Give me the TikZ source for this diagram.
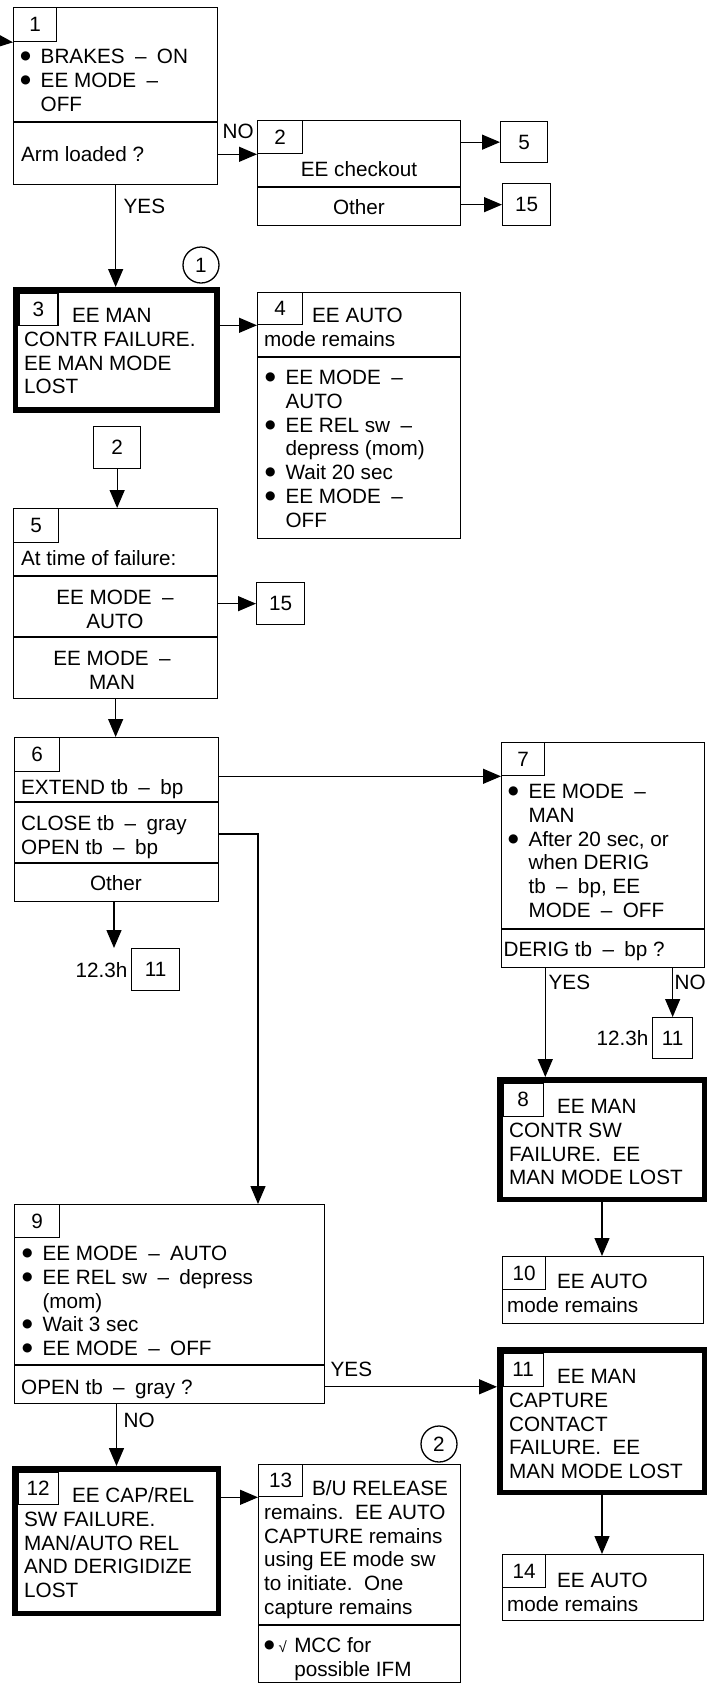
\documentclass[tikz,border=0pt]{standalone}
\usepackage{fontspec}
\setmainfont{Liberation Sans}
\newfontfamily\symfont{DejaVu Sans}
\usetikzlibrary{arrows.meta, positioning}
\newcommand{\dsh}{\enspace–\enspace}
\newcommand{\blt}{\raisebox{4pt}{\fontsize{12}{12}\selectfont\symfont ●}}

\begin{document}
\begin{tikzpicture}[
		x=1pt, y=-1pt,
		font=\fontsize{20.7}{23.8}\selectfont,
		line width=1.3pt,
		% plain procedure box
		block/.style={
			draw,
			inner sep=0pt,
			anchor=north west
		},
		% failure box (heavy frame)
		bigblock/.style={
			draw,
			line width=5.5pt,
			inner sep=0pt,
			anchor=north west
		},
		% step number in the corner of a box
		tag/.style={
			draw,
			inner sep=0pt,
			anchor=north west
		},
		% go-to box
		refbox/.style={
			draw,
			inner sep=0pt,
			anchor=north west
		},
		% circled note number
		ringnum/.style={
			circle,
			draw,
			minimum size=36pt,
			inner sep=0pt
		},
		txt/.style={inner sep=0pt, anchor=base west},
		lbl/.style={inner sep=0pt},
		flow/.style={
			-{Triangle[length=18pt, width=15pt]}
		}
		]
		\useasboundingbox (0,0) rectangle (709,1684);
		
		% Boxes of the left column
		\node[block, minimum width=204pt, minimum height=177pt] (box1) at (13,7) {};
		\node[tag, minimum width=43pt, minimum height=34pt] (num1) at (box1.north west) {1};
		\draw (box1.west |- 0,122) -- (box1.east |- 0,122);
		\node[txt] (list1) at (19.6,63.4) {\begin{tabular}[t]{@{}l@{\hspace{10pt}}l@{}}
				\blt & BRAKES\dsh ON\\
				\blt & EE MODE\dsh\\
				& OFF
			\end{tabular}};
		\node[txt] (ask1) at (20.5,161.4) {Arm loaded ?};
		
		\node[bigblock, minimum width=201.5pt, minimum height=120pt] (box3) at (12.7,287) {};
		\node[tag, minimum width=39pt, minimum height=32pt] (num3) at ([shift={(5.5,5.5)}]box3.north west) {3};
		\node[txt] (say3) at (23.5,322.4) {\begin{tabular}[t]{@{}l@{}}
				\hspace*{48pt}EE MAN\\
				CONTR FAILURE.\\
				EE MAN MODE\\
				LOST
			\end{tabular}};
		
		\node[refbox, minimum width=47pt, minimum height=42pt] (go2) at (93,426) {2};
		
		\node[block, minimum width=204pt, minimum height=190pt] (box5) at (13,508) {};
		\node[tag, minimum width=45pt, minimum height=34pt] (num5) at (box5.north west) {5};
		\draw (box5.west |- 0,576) -- (box5.east |- 0,576);
		\draw (box5.west |- 0,637) -- (box5.east |- 0,637);
		\node[txt] (ask5) at (20.5,565.4) {At time of failure:};
		\node[lbl, anchor=base] (auto5) at (115,604.4) {\begin{tabular}[t]{@{}c@{}}EE MODE\enspace–\\AUTO\end{tabular}};
		\node[lbl, anchor=base] (man5) at (112,665.4) {\begin{tabular}[t]{@{}c@{}}EE MODE\enspace–\\MAN\end{tabular}};
		
		\node[block, minimum width=204pt, minimum height=164pt] (box6) at (14,737) {};
		\node[tag, minimum width=45pt, minimum height=34pt] (num6) at (box6.north west) {6};
		\draw (box6.west |- 0,802) -- (box6.east |- 0,802);
		\draw (box6.west |- 0,863) -- (box6.east |- 0,863);
		\node[txt] (ext6) at (20.5,794.4) {EXTEND tb\dsh bp};
		\node[txt] (cls6) at (20.5,830.4) {\begin{tabular}[t]{@{}l@{}}CLOSE tb\dsh gray\\OPEN tb\dsh bp\end{tabular}};
		\node[lbl, anchor=base] (oth6) at (116,890.4) {Other};
		
		\node[refbox, minimum width=48pt, minimum height=42pt] (go11a) at (131,948) {11};
		\node[lbl, left=3pt of go11a] (at11a) {12.3h};
		
		\node[block, minimum width=310pt, minimum height=199pt] (box9) at (14,1204) {};
		\node[tag, minimum width=45pt, minimum height=33pt] (num9) at (box9.north west) {9};
		\draw (box9.west |- 0,1365) -- (box9.east |- 0,1365);
		\node[txt] (list9) at (21.4,1260.4) {\begin{tabular}[t]{@{}l@{\hspace{10pt}}l@{}}
				\blt & EE MODE\dsh AUTO\\
				\blt & EE REL sw\dsh depress\\
				& (mom)\\
				\blt & Wait 3 sec\\
				\blt & EE MODE\dsh OFF
			\end{tabular}};
		\node[txt] (ask9) at (20.5,1394.4) {OPEN tb\dsh gray ?};
		
		\node[bigblock, minimum width=203.5pt, minimum height=144.5pt] (box12) at (12,1466) {};
		\node[tag, minimum width=40pt, minimum height=32pt] (num12) at ([shift={(5.5,5.5)}]box12.north west) {12};
		\node[txt] (say12) at (23.5,1502.4) {\begin{tabular}[t]{@{}l@{}}
				\hspace*{48pt}EE CAP/REL\\
				SW FAILURE.\\
				MAN/AUTO REL\\
				AND DERIGIDIZE\\
				LOST
			\end{tabular}};
		
		% Boxes of the middle column
		\node[block, minimum width=203pt, minimum height=105pt] (box2) at (257,120) {};
		\node[tag, minimum width=45pt, minimum height=33pt] (num2) at (box2.north west) {2};
		\draw (box2.west |- 0,187) -- (box2.east |- 0,187);
		\node[lbl, anchor=base] (chk2) at (359,176.4) {EE checkout};
		\node[lbl, anchor=base] (oth2) at (359,214.4) {Other};
		\node[refbox, minimum width=47pt, minimum height=41pt] (go5) at (500,121) {5};
		\node[refbox, minimum width=48pt, minimum height=42pt] (go15a) at (502,183) {15};
		
		\node[ringnum] (note1) at (201,265) {1};
		
		\node[block, minimum width=203pt, minimum height=246pt] (box4) at (257,292) {};
		\node[tag, minimum width=45pt, minimum height=32pt] (num4) at (box4.north west) {4};
		\draw (box4.west |- 0,357) -- (box4.east |- 0,357);
		\node[txt] (say4) at (263.5,322.4) {\begin{tabular}[t]{@{}l@{}}
				\hspace*{48pt}EE AUTO\\
				mode remains
			\end{tabular}};
		\node[txt] (list4) at (264.4,384.4) {\begin{tabular}[t]{@{}l@{\hspace{10pt}}l@{}}
				\blt & EE MODE\dsh\\
				& AUTO\\
				\blt & EE REL sw\dsh\\
				& depress (mom)\\
				\blt & Wait 20 sec\\
				\blt & EE MODE\dsh\\
				& OFF
			\end{tabular}};
		
		\node[refbox, minimum width=48pt, minimum height=42pt] (go15b) at (256,582) {15};
		
		\node[ringnum] (note2) at (439,1444) {2};
		
		\node[block, minimum width=202pt, minimum height=218pt] (box13) at (258,1464) {};
		\node[tag, minimum width=44pt, minimum height=32pt] (num13) at (box13.north west) {13};
		\draw (box13.west |- 0,1625) -- (box13.east |- 0,1625);
		\node[txt] (say13) at (263.5,1495.4) {\begin{tabular}[t]{@{}l@{}}
				\hspace*{48pt}B/U RELEASE\\
				remains.\ \ EE AUTO\\
				CAPTURE remains\\
				using EE mode sw\\
				to initiate.\ \ One\\
				capture remains
			\end{tabular}};
		\node[txt] (mcc13) at (263.4,1652.4) {\begin{tabular}[t]{@{}l@{\hspace{7.5pt}}l@{}}
				\blt\hspace{4pt}{\fontsize{15}{15}\selectfont√} & MCC for\\
				& possible IFM
			\end{tabular}};
		
		% Boxes of the right column
		\node[block, minimum width=203pt, minimum height=225pt] (box7) at (501,742) {};
		\node[tag, minimum width=43pt, minimum height=33pt] (num7) at (box7.north west) {7};
		\draw (box7.west |- 0,929) -- (box7.east |- 0,929);
		\node[txt] (list7) at (507.4,798.4) {\begin{tabular}[t]{@{}l@{\hspace{10pt}}l@{}}
				\blt & EE MODE\dsh\\
				& MAN\\
				\blt & After 20 sec, or\\
				& when DERIG\\
				& tb\dsh bp, EE\\
				& MODE\dsh OFF
			\end{tabular}};
		\node[txt] (ask7) at (503,956.4) {DERIG tb\dsh bp ?};
		
		\node[refbox, minimum width=40pt, minimum height=41pt] (go11b) at (652,1017) {11};
		\node[lbl, left=3pt of go11b] (at11b) {12.3h};
		
		\node[bigblock, minimum width=204.5pt, minimum height=119.5pt] (box8) at (497,1077) {};
		\node[tag, minimum width=40pt, minimum height=33pt] (num8) at ([shift={(5.5,5.5)}]box8.north west) {8};
		\node[txt] (say8) at (508.5,1113.4) {\begin{tabular}[t]{@{}l@{}}
				\hspace*{48pt}EE MAN\\
				CONTR SW\\
				FAILURE.\ \ EE\\
				MAN MODE LOST
			\end{tabular}};
		
		\node[block, minimum width=201pt, minimum height=67pt] (box10) at (502,1256) {};
		\node[tag, minimum width=43pt, minimum height=33pt] (num10) at (box10.north west) {10};
		\node[txt] (say10) at (506.5,1288.4) {\begin{tabular}[t]{@{}l@{}}
				\hspace*{50pt}EE AUTO\\
				mode remains
			\end{tabular}};
		
		\node[bigblock, minimum width=204.5pt, minimum height=142.5pt] (box11) at (497,1347) {};
		\node[tag, minimum width=40pt, minimum height=33pt] (num11) at ([shift={(5.5,5.5)}]box11.north west) {11};
		\node[txt] (say11) at (508.5,1383.4) {\begin{tabular}[t]{@{}l@{}}
				\hspace*{48pt}EE MAN\\
				CAPTURE\\
				CONTACT\\
				FAILURE.\ \ EE\\
				MAN MODE LOST
			\end{tabular}};
		
		\node[block, minimum width=201pt, minimum height=66pt] (box14) at (502,1554) {};
		\node[tag, minimum width=43pt, minimum height=33pt] (num14) at (box14.north west) {14};
		\node[txt] (say14) at (506.5,1587.4) {\begin{tabular}[t]{@{}l@{}}
				\hspace*{50pt}EE AUTO\\
				mode remains
			\end{tabular}};
		
		% Free ends and bends of connectors
		\coordinate (in1) at (0,41);
		\coordinate (end6) at (114,948);
		\coordinate (bend69) at (258,834);
		
		% Connectors
		\draw[flow] (in1) -- (num1.south west);
		\draw[flow] (box1.east |- num2.south) -- (num2.south west);
		\draw[flow] (box1.south) -- (box1.south |- box3.north);
		\draw[flow] (box2.east |- go5.west) -- (go5.west);
		\draw[flow] (box2.east |- go15a.west) -- (go15a.west);
		\draw[flow] (box3.east |- num4.south) -- (num4.south west);
		\draw[flow] (go2.south) -- (go2.south |- box5.north);
		\draw[flow] (box5.east |- go15b.west) -- (go15b.west);
		\draw[flow] (box5.south) -- (box5.south |- box6.north);
		\draw[flow] (box6.east |- num7.south) -- (num7.south west);
		\draw[flow] (box6.east |- bend69) -- (bend69) -- (bend69 |- box9.north);
		\draw[flow] (box6.south -| end6) -- (end6);
		\draw[flow] (box7.south -| num7.east) -- (num7.east |- box8.north);
		\draw[flow] (box7.south -| go11b.north) -- (go11b.north);
		\draw[flow] (box8.south) -- (box8.south |- box10.north);
		\draw[flow] (box9.east |- num11.south) -- (box11.west |- num11.south);
		\draw[flow] (box12.north |- box9.south) -- (box12.north);
		\draw[flow] (box11.south) -- (box11.south |- box14.north);
		\draw[flow] (box12.east |- num13.south) -- (num13.south west);
		
		% YES / NO labels
		\node[txt] (no1) at (222,138.4) {NO};
		\node[txt] (yes1) at (123,213.4) {YES};
		\node[txt] (yes7) at (548,989.4) {YES};
		\node[txt] (no7) at (674,989.4) {NO};
		\node[txt] (yes9) at (330,1376.4) {YES};
		\node[txt] (no9) at (123,1427.4) {NO};
		
	\end{tikzpicture}
\end{document}
